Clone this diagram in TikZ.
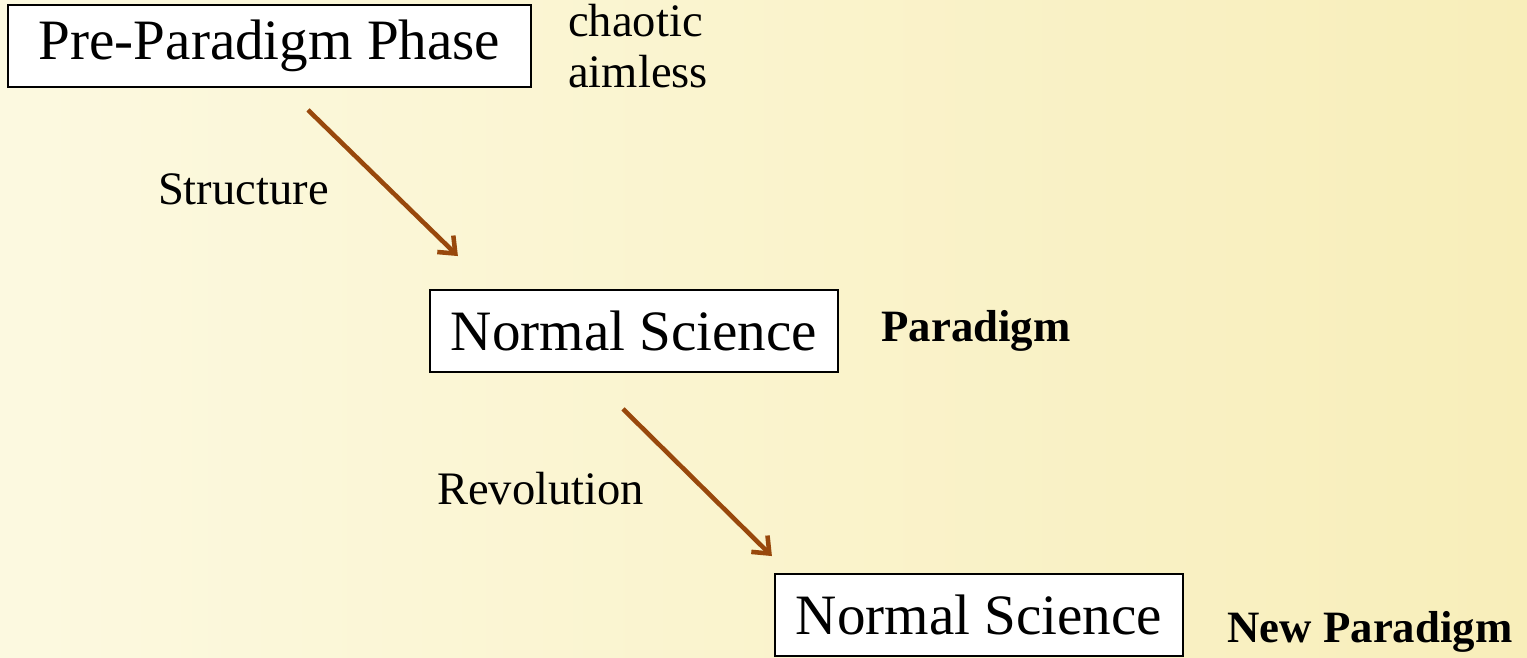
\documentclass[tikz,border=0pt]{standalone}
\usepackage{fontspec}
\setmainfont{Liberation Serif}
\usepackage{xcolor}
\usetikzlibrary{arrows.meta,positioning,calc}

\definecolor{parchlight}{RGB}{252,249,224}
\definecolor{parchdark}{RGB}{248,238,186}
\definecolor{arrowbrown}{RGB}{152,72,12}

\begin{document}
\begin{tikzpicture}[
    x=0.02cm, y=-0.02cm,
    phase/.style={draw, line width=1.1pt, fill=white, minimum height=1.64cm,
                  inner xsep=0.42cm, inner ysep=0pt,
                  font=\fontsize{32.5}{39}\selectfont},
    note/.style={inner sep=0pt, font=\fontsize{26.5}{29.5}\selectfont},
    tag/.style={inner sep=0pt, font=\fontsize{25.5}{30}\selectfont\bfseries},
    arr/.style={-{Straight Barb[length=0.28cm, width=0.46cm]},
                line width=2.6pt, draw=arrowbrown}
  ]
  % parchment background
  \shade[left color=parchlight, right color=parchdark]
    (0,0) rectangle (1527,657);
  \useasboundingbox (0,0) rectangle (1527,657);

  \node[phase, minimum width=10.46cm] (pre) at (269.5,46) {Pre-Paradigm Phase};
  \node[phase] (normal) at (634,331) {Normal Science};
  \node[phase] (newnormal) at (979,615) {Normal Science};

  % side remarks
  \node[note, align=left, right=0.72cm of pre] (chaos) {chaotic\\aimless};
  \node[tag, right=0.84cm of normal] (para) {Paradigm};
  \node[tag, right=0.86cm of newnormal, yshift=-0.34cm] (newpara) {New Paradigm};

  % arrow ends
  \coordinate (s1) at ($(pre.south)+(38.5,22)$);
  \coordinate (e1) at ($(normal.north west)+(29,-33)$);
  \coordinate (s2) at ($(normal.south)+(-11,36)$);
  \coordinate (e2) at ($(newnormal.north west)+(-2,-17)$);

  \draw[arr] (s1) -- node[note, midway, anchor=east, xshift=-1.04cm, yshift=-0.12cm] (struct) {Structure} (e1);
  \draw[arr] (s2) -- node[note, midway, anchor=east, xshift=-1.02cm, yshift=-0.13cm] (revo) {Revolution} (e2);
\end{tikzpicture}
\end{document}
